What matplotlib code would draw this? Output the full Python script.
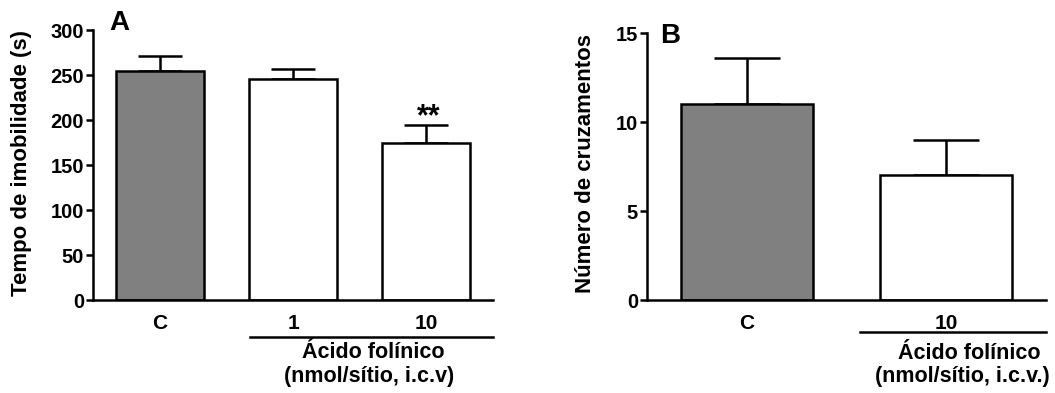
import matplotlib.pyplot as plt
from matplotlib.transforms import blended_transform_factory

plt.rcParams['font.family'] = ['Liberation Sans', 'DejaVu Sans']
plt.rcParams['font.weight'] = 'bold'

# Painel A - tempo de imobilidade
grupos_a = ["C", "1", "10"]
medias_a = [255, 246, 175]
erros_a = [16, 11, 20]
cores_a = ["#808080", "white", "white"]

# Painel B - numero de cruzamentos
grupos_b = ["C", "10"]
medias_b = [11, 7]
erros_b = [2.6, 2.0]
cores_b = ["#808080", "white"]

fig = plt.figure(figsize=(10.55, 3.93), dpi=100)
axA = fig.add_axes([0.0882, 0.2366, 0.3791, 0.687])
axB = fig.add_axes([0.6133, 0.2366, 0.3782, 0.679])


def desenha(ax, grupos, medias, erros, cores, ylim, yticks, capsize):
    x = list(range(len(grupos)))
    ax.bar(x, medias, width=0.66, color=cores, edgecolor="black", linewidth=1.8, zorder=2)
    ax.errorbar(x, medias, yerr=[[0] * len(x), erros], fmt="none", ecolor="black",
                elinewidth=1.8, capsize=capsize, capthick=1.8, zorder=1)
    ax.set_xlim(-0.5, len(grupos) - 0.5)
    ax.set_ylim(*ylim)
    ax.set_yticks(yticks)
    ax.set_xticks(x)
    ax.set_xticklabels(grupos, fontsize=15, fontweight="bold")
    ax.tick_params(axis="x", length=0, pad=10)
    ax.tick_params(axis="y", length=5, width=1.8, pad=1.5, labelsize=14.5)
    for lab in ax.get_yticklabels():
        lab.set_fontweight("bold")
    for s in ["top", "right"]:
        ax.spines[s].set_visible(False)
    for s in ["left", "bottom"]:
        ax.spines[s].set_linewidth(1.8)


desenha(axA, grupos_a, medias_a, erros_a, cores_a, (0, 300), [0, 50, 100, 150, 200, 250, 300], 16)
desenha(axB, grupos_b, medias_b, erros_b, cores_b, (0, 15), [0, 5, 10, 15], 24)

# rotulos do eixo y
axA.text(-0.178, 0.507, "Tempo de imobilidade (s)", rotation=90, ha="center", va="center",
         transform=axA.transAxes, fontsize=16, fontweight="bold")
axB.text(-0.155, 0.513, "Número de cruzamentos", rotation=90, ha="center", va="center",
         transform=axB.transAxes, fontsize=16, fontweight="bold")

# letras dos paineis
axA.text(0.065, 1.025, "A", transform=axA.transAxes, ha="center", va="center",
         fontsize=20, fontweight="bold")
axB.text(0.058, 0.99, "B", transform=axB.transAxes, ha="center", va="center",
         fontsize=20, fontweight="bold")

# significancia
axA.text(2.02, 203, "**", ha="center", va="center", fontsize=22, fontweight="bold")

# linhas e legenda do tratamento
trA = blended_transform_factory(axA.transData, axA.transAxes)
axA.plot([0.68, 2.5], [-0.137, -0.137], transform=trA, color="black", lw=1.8, clip_on=False)
axA.text(1.6, -0.193, "Ácido folínico", transform=trA, ha="center", va="center",
         fontsize=15.5, fontweight="bold")
axA.text(1.57, -0.285, "(nmol/sítio, i.c.v)", transform=trA, ha="center", va="center",
         fontsize=15.5, fontweight="bold")

trB = blended_transform_factory(axB.transData, axB.transAxes)
axB.plot([0.57, 1.5], [-0.12, -0.12], transform=trB, color="black", lw=1.8, clip_on=False)
axB.text(1.115, -0.199, "Ácido folínico", transform=trB, ha="center", va="center",
         fontsize=15.5, fontweight="bold")
axB.text(1.08, -0.288, "(nmol/sítio, i.c.v.)", transform=trB, ha="center", va="center",
         fontsize=15.5, fontweight="bold")

fig.savefig("out.png", dpi=100)
